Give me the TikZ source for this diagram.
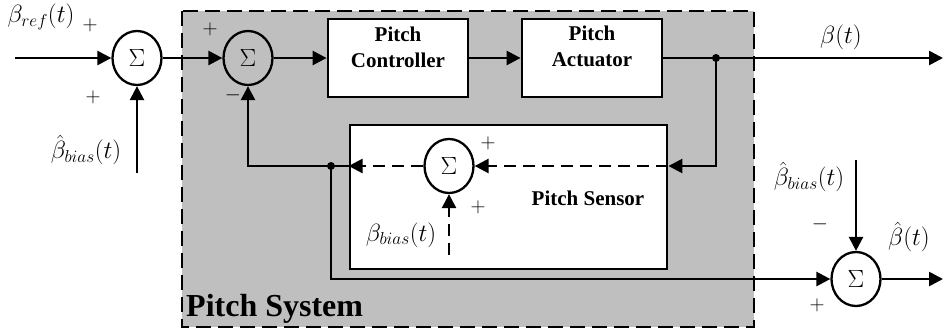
\documentclass[tikz,border=0pt]{standalone}
\usepackage{fontspec}
\setmainfont{Liberation Serif}
\usetikzlibrary{shapes.geometric,arrows.meta}
\definecolor{bg}{RGB}{191,191,191}
\begin{document}
\begin{tikzpicture}[x=1pt,y=-1pt,
  sig/.style={draw, ellipse, line width=2.3pt, minimum width=49pt, minimum height=54pt, inner sep=0pt, font=\fontsize{26}{28}\selectfont},
  blk/.style={draw, fill=white, line width=2.8pt, inner sep=0pt},
  arr/.style={line width=2.6pt, -{Triangle[length=14pt,width=14pt]}},
  dsh/.style={dash pattern=on 12pt off 7pt},
  lab/.style={font=\fontsize{23}{26}\selectfont, inner sep=0pt},
  sgn/.style={font=\fontsize{22}{24}\selectfont, inner sep=0pt},
  btxt/.style={font=\fontsize{21}{26}\selectfont\bfseries, align=center, inner sep=0pt},
  jdot/.style={circle, fill, inner sep=0pt, minimum size=8pt}]
\useasboundingbox (0,0) rectangle (944,333);
% pitch system area
\path[fill=bg, draw, line width=2.6pt, dash pattern=on 15pt off 7pt] (182,11) rectangle (754,327);
% blocks
\node[blk, minimum width=140pt, minimum height=78pt] (ctrl) at (398,58) {};
\node[blk, minimum width=140pt, minimum height=78pt] (act) at (592,58) {};
\node[blk, minimum width=317pt, minimum height=144pt] (sens) at (508.5,197) {};
\node[btxt] (ctrlt) at (398,47) {Pitch\\Controller};
\node[btxt] (actt) at (592,46) {Pitch\\Actuator};
\node[btxt, anchor=base] (senst) at (588,205) {Pitch Sensor};
\node[font=\fontsize{32}{36}\selectfont\bfseries, inner sep=0pt, anchor=base west] (syst) at (186,316) {Pitch System};
% summing junctions
\node[sig] (s1) at (137,58) {$\Sigma$};
\node[sig] (s2) at (248,58) {$\Sigma$};
\node[sig] (ss) at (449,166) {$\Sigma$};
\node[sig] (s3) at (856,279) {$\Sigma$};
% coordinates
\coordinate (in) at (15,58);
\coordinate (out) at (943,58);
\coordinate (out2) at (943,279);
\coordinate (b1) at (137,173);
\coordinate (b3) at (856,160);
\coordinate (bs) at (449,255);
\node[jdot] (d1) at (716,58) {};
\node[jdot] (d2) at (331,166) {};
% connectors
\draw[arr] (in) -- (s1);
\draw[arr] (s1) -- (s2);
\draw[arr] (s2) -- (ctrl);
\draw[arr] (ctrl) -- (act);
\draw[arr] (act) -- (out);
\draw[arr] (d1.center) |- (sens.east |- ss);
\draw[arr, dsh] (sens.east |- ss) -- (ss);
\draw[arr, dsh] (ss) -- (sens.west |- ss);
\draw[arr, dsh] (bs) -- (ss);
\draw[arr] (sens.west |- ss) -| (s2.south);
\draw[arr] (d2.center) |- (s3.west);
\draw[arr] (b1) -- (s1);
\draw[arr] (b3) -- (s3);
\draw[arr] (s3) -- (out2);
% labels
\node[lab] (lref) at (41,17) {$\beta_{ref}(t)$};
\node[sgn] (p1) at (90,25) {$+$};
\node[sgn] (p2) at (93,97) {$+$};
\node[lab] (lbh1) at (86,150) {$\hat{\beta}_{bias}(t)$};
\node[sgn] (p3) at (210,29) {$+$};
\node[sgn] (m1) at (233,95) {$-$};
\node[sgn] (p4) at (488,143) {$+$};
\node[sgn] (p5) at (478,207) {$+$};
\node[lab] (lbs) at (401,235) {$\beta_{bias}(t)$};
\node[lab] (lb) at (841,37) {$\beta(t)$};
\node[lab] (lbh2) at (809,177) {$\hat{\beta}_{bias}(t)$};
\node[sgn] (m2) at (820,224) {$-$};
\node[lab] (lbhat) at (909,237) {$\hat{\beta}(t)$};
\node[sgn] (p6) at (817,305) {$+$};
\end{tikzpicture}
\end{document}
